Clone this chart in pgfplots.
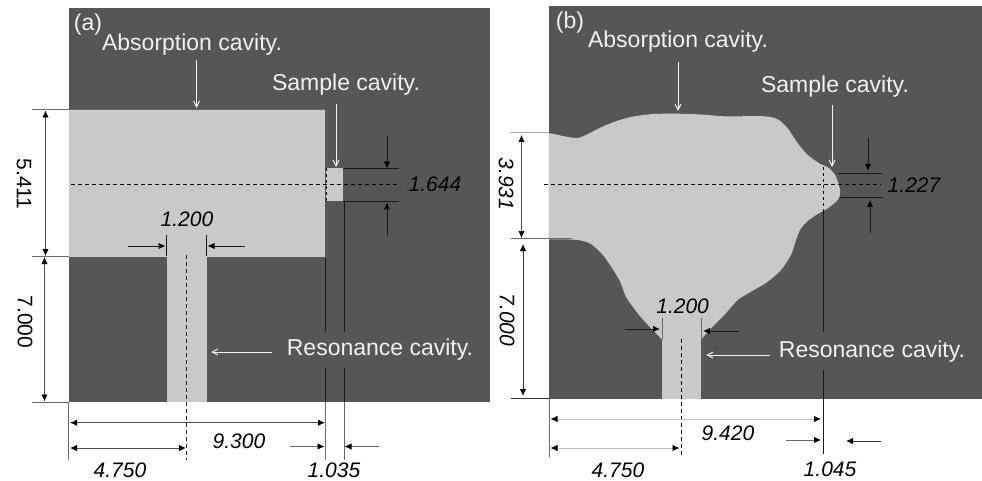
\documentclass[border=0pt]{standalone}
\usepackage{fontspec}
\setmainfont{Liberation Sans}
\usepackage{pgfplots}
\pgfplotsset{compat=1.18}
\usetikzlibrary{arrows.meta}
\definecolor{dk}{HTML}{565656}
\definecolor{lt}{HTML}{C9C9C9}
\definecolor{lineg}{HTML}{6A6A6A}
\definecolor{wht}{HTML}{F2F2F2}
\tikzset{
 L/.style={font=\fontsize{23}{24}\selectfont,text=wht,inner sep=0pt,anchor=center},
 N/.style={font=\fontsize{21}{22}\selectfont\itshape,text=black,inner sep=0pt,anchor=center},
 U/.style={font=\fontsize{21}{22}\selectfont,text=black,inner sep=0pt,anchor=center},
}
\pgfplotsset{
 blk/.style={draw=black!90,line width=1pt,no markers,forget plot},
 gry/.style={draw=lineg,line width=1pt,no markers,forget plot},
 pale/.style={draw=black!25,line width=0.8pt,no markers,forget plot},
 dsh/.style={draw=black,line width=1pt,dash pattern=on 4pt off 3pt,no markers,forget plot},
 arr/.style={draw=black!90,line width=0.9pt,-{Latex[length=7pt,width=6.5pt,black]},no markers,forget plot},
 arrb/.style={draw=black!70,line width=0.9pt,{Latex[length=7pt,width=6.5pt,black]}-{Latex[length=7pt,width=6.5pt,black]},no markers,forget plot},
 arrp/.style={draw=black!25,line width=0.8pt,{Latex[length=7pt,width=6.5pt,black]}-{Latex[length=7pt,width=6.5pt,black]},no markers,forget plot},
 warr/.style={draw=wht,line width=1pt,-{Straight Barb[length=6pt,width=6pt]},no markers,forget plot},
 fd/.style={fill=dk,draw=none,no markers,forget plot},
 fl/.style={fill=lt,draw=none,no markers,forget plot},
}
\begin{document}
\begin{tikzpicture}
\begin{axis}[
  scale only axis, width=982pt, height=481pt,
  xmin=0, xmax=982, ymin=0, ymax=481, y dir=reverse,
  axis lines=none, clip=false, anchor=south west, at={(0,0)},
]
% ---------- panel (a)
\addplot[fd] coordinates {(68.5,8.5)(490,8.5)(490,402)(68.5,402)};
\addplot[fl] coordinates {(68.5,110)(325,110)(325,256.5)(68.5,256.5)};
\addplot[fl] coordinates {(326,168)(343,168)(343,201)(326,201)};
\addplot[fl] coordinates {(166.5,256)(206.5,256)(206.5,402)(166.5,402)};
\addplot[gry] coordinates {(32,110)(325,110)};
\addplot[gry] coordinates {(32,256.5)(68.5,256.5)};
\addplot[gry] coordinates {(32,402)(68.5,402)};
\addplot[arrb] coordinates {(45.5,110.5)(45.5,256)};
\addplot[arrb] coordinates {(44.5,257)(44.5,401.5)};
\addplot[dsh] coordinates {(71,184.5)(400,184.5)};
\addplot[dsh,dash pattern=on 3pt off 3pt] coordinates {(326,168)(326,201)};
\addplot[blk] coordinates {(343,169)(399,169)};
\addplot[blk] coordinates {(343,202)(399,202)};
\addplot[arr] coordinates {(387,136)(387,168.5)};
\addplot[arr] coordinates {(387,236)(387,202.5)};
\addplot[blk] coordinates {(344,202)(344,332)};
\addplot[blk] coordinates {(344,368)(344,402)};
\addplot[gry] coordinates {(344,402)(344,460)};
\addplot[blk] coordinates {(325,258)(325,332)};
\addplot[blk] coordinates {(325,368)(325,402)};
\addplot[gry] coordinates {(325,402)(325,460)};
\addplot[blk] coordinates {(166,235)(166,256)};
\addplot[blk] coordinates {(206.5,235)(206.5,256)};
\addplot[arr] coordinates {(128,246)(165.5,246)};
\addplot[arr] coordinates {(245,246)(207.5,246)};
\addplot[dsh,draw=black!85,line width=0.8pt,dash pattern=on 4pt off 3pt] coordinates {(186.5,255)(186.5,460)};
\addplot[warr] coordinates {(196.5,60)(196.5,108)};
\addplot[warr] coordinates {(336,104)(336,167)};
\addplot[warr] coordinates {(272,352)(211,352)};
\addplot[gry] coordinates {(68.5,402)(68.5,460)};
\addplot[arrb] coordinates {(70,422.7)(325,422.7)};
\addplot[arrb] coordinates {(70,448)(186,448)};
\addplot[arr,draw=black!60] coordinates {(290,446.5)(324.5,446.5)};
\addplot[arr,draw=black!60] coordinates {(379,446.5)(344.5,446.5)};
\node[L] at (axis cs:192,45) {Absorption cavity.};
\node[L] at (axis cs:346,85) {Sample cavity.};
\node[L] at (axis cs:380,350) {Resonance cavity.};
\node[L] at (axis cs:88,25) {(a)};
\node[U,rotate=-90] at (axis cs:24,184) {5.411};
\node[U,rotate=-90] at (axis cs:25,322) {7.000};
\node[N] at (axis cs:435,184) {1.644};
\node[N] at (axis cs:187,219) {1.200};
\node[N] at (axis cs:239,441) {9.300};
\node[N] at (axis cs:120,470) {4.750};
\node[N] at (axis cs:334,470) {1.035};
% ---------- panel (b)
\addplot[fd] coordinates {(548.7,6.5)(982,6.5)(982,398.7)(548.7,398.7)};
\addplot[fl,smooth,tension=0.45] coordinates {
(548.7,133.3)(554.3,134)(566,136.7)(577.7,138)(586,135)(601,127.3)(617.7,120.7)(634.3,116.3)
(654.3,114)(677.7,113.7)(704.3,114.7)(724.3,116.3)(764.3,116.3)(777.7,119.3)(787.7,128.3)
(797.7,143.3)(807.7,155)(819.3,163.3)(829.3,168.3)(836,176.7)(840.3,191.7)(837.7,200)
(827.7,208.3)(816,215)(806,222.5)(800,230)(796,240)(791,255)(781,270)(767.7,281.7)
(751,291.7)(737.7,300)(724.3,315)(711,328.3)(701,340)(696,350)(668,350)(662.3,340)
(651,328.3)(637.7,313.3)(626,296.7)(619.3,280)(604.3,256.7)(591,244)(577.7,240)(557.7,239.3)(548.7,239.3)};
\addplot[fl] coordinates {(662.3,338)(701,338)(701,398.7)(662.3,398.7)};
\addplot[gry,draw=black!35] coordinates {(510,132.5)(549,132.5)};
\addplot[gry] coordinates {(511,238.5)(572,238.5)};
\addplot[gry,draw=black!80] coordinates {(511,398.7)(549,398.7)};
\addplot[arrb] coordinates {(521.5,135)(521.5,238)};
\addplot[arrb,draw=black!80] coordinates {(523,244)(523,396)};
\addplot[dsh] coordinates {(544,185)(881,185)};
\addplot[dsh,dash pattern=on 3pt off 3pt] coordinates {(823,167)(823,210)};
\addplot[blk] coordinates {(823,210)(823,332)};
\addplot[blk] coordinates {(823,370)(823,454)};
\addplot[blk] coordinates {(838,173.5)(882,173.5)};
\addplot[blk] coordinates {(840,197.5)(883,197.5)};
\addplot[arr] coordinates {(868,138)(868,171)};
\addplot[arr] coordinates {(870,233)(870,200)};
\addplot[gry] coordinates {(662.5,318)(662.5,340)};
\addplot[gry] coordinates {(701,318)(701,340)};
\addplot[arr] coordinates {(625,329)(660,329)};
\addplot[arr] coordinates {(739,331)(703,331)};
\addplot[dsh,line width=0.8pt,dash pattern=on 4pt off 3pt] coordinates {(681.5,339)(681.5,455)};
\addplot[warr] coordinates {(678,62)(678,111)};
\addplot[warr] coordinates {(832,105)(832,167)};
\addplot[warr] coordinates {(770,355)(706,355)};
\addplot[gry] coordinates {(549,398.7)(549,457)};
\addplot[arrp] coordinates {(550.5,419)(821,419)};
\addplot[arrp] coordinates {(550.5,448)(679.5,448)};
\addplot[arr,draw=black!60] coordinates {(786,440)(821,440)};
\addplot[arr,draw=black!80] coordinates {(881,441)(846,441)};
\node[L] at (axis cs:678,42) {Absorption cavity.};
\node[L] at (axis cs:835,87) {Sample cavity.};
\node[L] at (axis cs:872,352) {Resonance cavity.};
\node[L] at (axis cs:570,23) {(b)};
\node[N,rotate=-90] at (axis cs:506,184) {3.931};
\node[N,rotate=-90] at (axis cs:507,320) {7.000};
\node[N] at (axis cs:914,185) {1.227};
\node[N] at (axis cs:682.6,306) {1.200};
\node[N] at (axis cs:728,433) {9.420};
\node[N] at (axis cs:618,470) {4.750};
\node[N] at (axis cs:830,469) {1.045};
\end{axis}
\pgfresetboundingbox
\path[use as bounding box] (0,0) rectangle (982pt,481pt);
\end{tikzpicture}
\end{document}
